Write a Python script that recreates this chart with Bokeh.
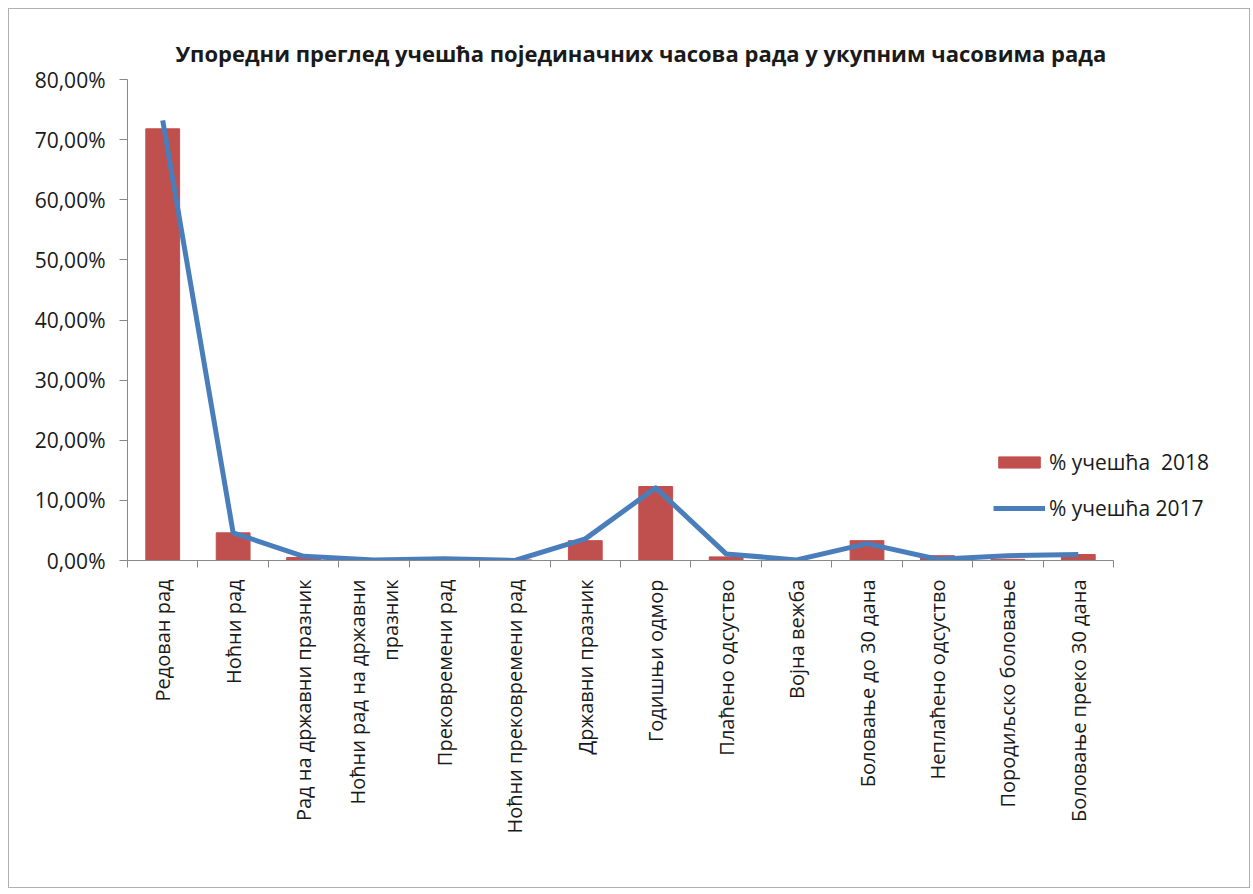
import numpy as np
from bokeh.plotting import figure
from bokeh.models import FixedTicker, Legend, LegendItem, Range1d
from bokeh.embed import file_html
from bokeh.resources import INLINE

categories = [
    "Редован рад", "Ноћни рад", "Рад на државни празник",
    "Ноћни рад на државни\nпразник", "Прековремени рад",
    "Ноћни прековремени рад", "Државни празник", "Годишњи одмор",
    "Плаћено одсуство", "Војна вежба", "Боловање до 30 дана",
    "Неплаћено одсуство", "Породиљско боловање", "Боловање преко 30 дана",
]
share_2018 = [71.8, 4.6, 0.5, 0.1, 0.2, 0.1, 3.3, 12.3, 0.6, 0.0, 3.3, 0.8, 0.2, 1.0]
share_2017 = [73.2, 4.6, 0.7, 0.1, 0.3, 0.0, 3.6, 12.1, 1.1, 0.1, 2.8, 0.2, 0.8, 1.0]
y_ticks = [0, 10, 20, 30, 40, 50, 60, 70, 80]
y_tick_labels = ["0,00%", "10,00%", "20,00%", "30,00%", "40,00%",
                 "50,00%", "60,00%", "70,00%", "80,00%"]
title_text = "Упоредни преглед учешћа  појединачних часова рада у укупним часовима рада"
legend_labels = ["% учешћа  2018", "% учешћа 2017"]

FONT = "Open Sans"
n = len(categories)
xs = [i + 0.5 for i in range(n)]

W, H = 1242, 880
ML, MR, MT, MB = 118, 8, 70, 329
frame_w = W - ML - MR
axis_w = 986  # pixel length of the category axis
x_end = n * frame_w / axis_w

p = figure(width=W, height=H, output_backend="svg", toolbar_location=None,
           x_range=Range1d(0, x_end), y_range=Range1d(0, 80),
           min_border_left=ML, min_border_right=MR,
           min_border_top=MT, min_border_bottom=MB,
           title=title_text)
p.styles = {"border": "1px solid #b0b0b0", "margin-left": "8px", "margin-top": "8px"}

p.title.text_font = FONT
p.title.text_font_size = "22px"
p.title.text_font_style = "bold"
p.title.align = "left"
p.title.offset = 48
p.title.text_color = "#1a1a1a"
p.title.standoff = 24

bars = p.vbar(x=xs, top=share_2018, width=0.48, fill_color="#C0504D", line_color="#C0504D")
line = p.line(x=xs, y=share_2017, line_color="#4A7EBB", line_width=5, line_join="round")

p.xgrid.visible = False
p.ygrid.visible = False
p.outline_line_color = None

xa = p.xaxis[0]
xa.bounds = (0, n)
xa.ticker = FixedTicker(ticks=xs, minor_ticks=list(range(n + 1)))
xa.major_label_overrides = {xs[i]: categories[i] for i in range(n)}
xa.major_label_orientation = np.pi / 2
xa.major_tick_out = 0
xa.major_tick_in = 0
xa.minor_tick_out = 7
xa.minor_tick_in = 0
xa.minor_tick_line_color = "#888888"
xa.axis_line_color = "#888888"
xa.major_label_text_font = FONT
xa.major_label_text_font_size = "20px"
xa.major_label_text_color = "#1a1a1a"
xa.major_label_standoff = 12

ya = p.yaxis[0]
ya.ticker = FixedTicker(ticks=y_ticks)
ya.major_label_overrides = {y_ticks[i]: y_tick_labels[i] for i in range(len(y_ticks))}
ya.major_tick_out = 8
ya.major_tick_in = 0
ya.minor_tick_out = 0
ya.minor_tick_in = 0
ya.major_tick_line_color = "#888888"
ya.axis_line_color = "#888888"
ya.major_label_text_font = FONT
ya.major_label_text_font_size = "21px"
ya.major_label_text_color = "#1a1a1a"
ya.major_label_standoff = 14

legend = Legend(items=[LegendItem(label=legend_labels[0], renderers=[bars]),
                       LegendItem(label=legend_labels[1], renderers=[line])],
                location=(866, 38))
legend.border_line_color = None
legend.background_fill_alpha = 0
legend.glyph_width = 52
legend.glyph_height = 14
legend.label_text_font = FONT
legend.label_text_font_size = "21px"
legend.label_text_color = "#1a1a1a"
legend.spacing = 18
legend.label_standoff = 4
p.add_layout(legend)

open("out.html", "w").write(file_html(p, INLINE))
